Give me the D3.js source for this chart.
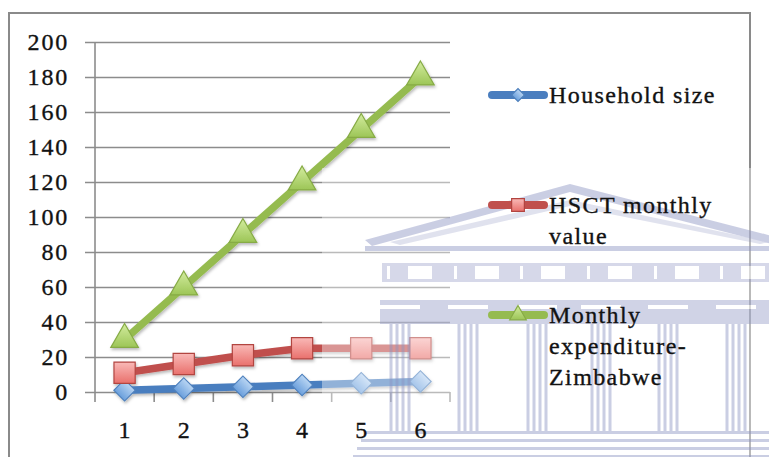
<!DOCTYPE html>
<html>
<head>
<meta charset="utf-8">
<script src="https://cdn.jsdelivr.net/npm/d3@7"></script>
<style>
  html, body { margin: 0; padding: 0; background: #fff; }
  svg { display: block; }
</style>
</head>
<body>
<svg id="chart" width="769" height="457"></svg>
<script>
// Household size categories and the three series plotted against them
const categories = [1, 2, 3, 4, 5, 6];
const householdSize = [1, 2, 3, 4, 5, 6];
const hsctMonthly = [11, 16, 21, 25, 25, 25];
const monthlyExpenditure = [30, 60, 90, 120, 150, 180];
const yTicks = [0, 20, 40, 60, 80, 100, 120, 140, 160, 180, 200];

const seriesNames = [["Household size"], ["HSCT monthly", "value"], ["Monthly", "expenditure-", "Zimbabwe"]];

const FONT = "'Liberation Serif', 'Times New Roman', serif";

const series = [
  { name: seriesNames[0], values: householdSize, line: "#4a7ebf", fill: ["#b9d5f3", "#6a9fdc"], stroke: "#4f81bd", shape: "diamond" },
  { name: seriesNames[1], values: hsctMonthly, line: "#c0504d", fill: ["#f9b9b7", "#e9706c"], stroke: "#b24440", shape: "square" },
  { name: seriesNames[2], values: monthlyExpenditure, line: "#95bb50", fill: ["#d3ec9f", "#9cc556"], stroke: "#86ab45", shape: "triangle" }
];

const svg = d3.select("#chart");
const plot = { left: 95, right: 450, top: 42, bottom: 392 };

const x = d3.scaleBand().domain(categories).range([plot.left, plot.right]);
const y = d3.scaleLinear().domain([0, 200]).range([plot.bottom, plot.top]);

// gradients and shadow
const defs = svg.append("defs");
series.forEach((s, i) => {
  const g = defs.append("linearGradient").attr("id", "grad" + i)
    .attr("x1", 0).attr("y1", 0).attr("x2", 0).attr("y2", 1);
  g.append("stop").attr("offset", "0%").attr("stop-color", s.fill[0]);
  g.append("stop").attr("offset", "100%").attr("stop-color", s.fill[1]);
});
const sh = defs.append("filter").attr("id", "shadow")
  .attr("x", "-20%").attr("y", "-20%").attr("width", "140%").attr("height", "160%");
sh.append("feDropShadow").attr("dx", 1).attr("dy", 2).attr("stdDeviation", 1.5)
  .attr("flood-color", "#000").attr("flood-opacity", 0.28);

// text style shared by ticks and legend
function serifText(sel, spacing) {
  return sel.style("font-family", FONT).style("font-size", "24px")
    .attr("letter-spacing", spacing).attr("fill", "#121212")
    .attr("stroke", "#121212").attr("stroke-width", 0.35);
}

// outer frame
svg.append("rect").attr("x", 9).attr("y", 13).attr("width", 741).attr("height", 470)
  .attr("fill", "none").attr("stroke", "#8a8a8a").attr("stroke-width", 2);

// horizontal gridlines with y axis labels
const yAxis = d3.axisLeft(y).tickValues(yTicks).tickSize(plot.right - plot.left + 10).tickPadding(16).tickFormat(d3.format("d"));
const ga = svg.append("g").attr("transform", `translate(${plot.right},0)`).call(yAxis)
  .attr("font-family", null).attr("font-size", null);
ga.select(".domain").remove();
ga.selectAll(".tick line").attr("stroke", "#8c8c8c").attr("stroke-width", 1.6);
serifText(ga.selectAll(".tick text"), 1.8);

// vertical axis line
svg.append("line").attr("x1", plot.left).attr("x2", plot.left)
  .attr("y1", plot.top).attr("y2", plot.bottom + 10)
  .attr("stroke", "#8c8c8c").attr("stroke-width", 1.6);

// category axis: ticks at band boundaries, labels at band centres
const bounds = categories.map(c => x(c) + x.bandwidth());
svg.append("g").selectAll("line").data(bounds).join("line")
  .attr("x1", d => d).attr("x2", d => d)
  .attr("y1", plot.bottom).attr("y2", plot.bottom + 10)
  .attr("stroke", "#8c8c8c").attr("stroke-width", 1.6);

// markers
function markerPath(shape, scale) {
  if (shape === "diamond") return d3.symbol(d3.symbolSquare, 230 * scale * scale)();
  if (shape === "square") return d3.symbol(d3.symbolSquare, 450 * scale * scale)();
  return d3.symbol(d3.symbolTriangle, 330 * scale * scale)();
}
function drawMarker(g, s, i, cx, cy, scale) {
  g.append("path").attr("d", markerPath(s.shape, scale))
    .attr("transform", `translate(${cx},${cy})` + (s.shape === "diamond" ? " rotate(45)" : ""))
    .attr("fill", `url(#grad${i})`).attr("stroke", s.stroke).attr("stroke-width", 1.2);
}

const line = d3.line().x((d, j) => x(categories[j]) + x.bandwidth() / 2).y(d => y(d));
const lines = svg.append("g").attr("filter", "url(#shadow)");
series.forEach((s, i) => {
  lines.append("path").attr("d", line(s.values)).attr("fill", "none")
    .attr("stroke", s.line).attr("stroke-width", 7.5).attr("stroke-linejoin", "round");
});
series.forEach((s, i) => {
  s.values.forEach((v, j) => drawMarker(lines, s, i, x(categories[j]) + x.bandwidth() / 2, y(v), 1));
});

// faint building watermark in the lower right, over a light veil
svg.append("rect").attr("x", 322).attr("y", 168).attr("width", 447).attr("height", 289)
  .attr("fill", "#fff").attr("opacity", 0.4);
const wm = svg.append("g").attr("opacity", 0.45).attr("fill", "#8c93c2").attr("stroke", "none");
// roof
wm.append("path").attr("d", "M365,240 L570,184 L780,238 L780,246 L570,192 L372,246 Z");
wm.append("path").attr("d", "M390,242 L570,200 L770,242 L760,244 L570,206 L400,245 Z").attr("opacity", 0.6);
wm.append("rect").attr("x", 365).attr("y", 246).attr("width", 404).attr("height", 5);
// frieze with metopes
wm.append("rect").attr("x", 382).attr("y", 263).attr("width", 387).attr("height", 19).attr("opacity", 0.8);
const metopes = [420, 487, 553, 620, 687, 753];
wm.selectAll(".met").data(metopes).join("rect").attr("class", "met")
  .attr("x", d => d - 12).attr("y", 266).attr("width", 24).attr("height", 13).attr("fill", "#fff");
wm.selectAll(".tri").data(metopes).join("rect").attr("class", "tri")
  .attr("x", d => d - 33).attr("y", 266).attr("width", 3).attr("height", 13).attr("fill", "#fff");
// architrave band
wm.append("rect").attr("x", 380).attr("y", 300).attr("width", 389).attr("height", 24).attr("opacity", 0.9);
const cols = [400, 468, 537, 601, 668, 736];
wm.selectAll(".cap").data(cols).join("rect").attr("class", "cap")
  .attr("x", d => d - 20).attr("y", 305).attr("width", 40).attr("height", 4).attr("fill", "#fff");
// columns
cols.forEach(c => {
  [-9, -3, 3, 9].forEach(o => {
    wm.append("rect").attr("x", c + o - 1.5).attr("y", 324).attr("width", 3).attr("height", 108);
  });
});
// steps
[431, 439, 447, 455].forEach((yy, k) => {
  wm.append("rect").attr("x", 365 - k * 4).attr("y", yy).attr("width", 404 + k * 4).attr("height", 3);
});

// category labels
serifText(svg.append("g").selectAll("text").data(categories).join("text")
  .attr("x", d => x(d) + x.bandwidth() / 2).attr("y", plot.bottom + 46)
  .attr("text-anchor", "middle").text(d => d), 0);

// legend
const legendY = [95, 205, 315];
const leg = svg.append("g");
series.forEach((s, i) => {
  const g = leg.append("g").attr("transform", `translate(0,${legendY[i]})`);
  g.append("line").attr("x1", 492).attr("x2", 544).attr("y1", 0).attr("y2", 0)
    .attr("stroke", s.line).attr("stroke-width", 8).attr("stroke-linecap", "round");
  drawMarker(g, s, i, 518, 0, 0.6);
  s.name.forEach((t, k) => {
    serifText(g.append("text").attr("x", 549).attr("y", 8 + k * 31).text(t), 1.4);
  });
});
</script>
</body>
</html>
